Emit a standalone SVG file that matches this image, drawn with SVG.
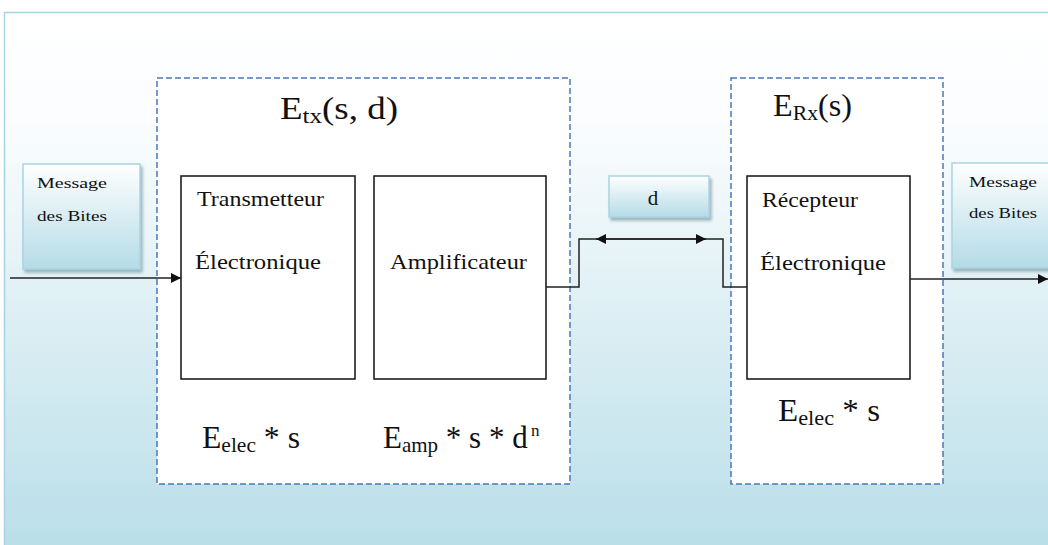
<svg xmlns="http://www.w3.org/2000/svg" width="1048" height="545" viewBox="0 0 1048 545">
  <defs>
    <linearGradient id="bg" x1="0" y1="0" x2="0" y2="1">
      <stop offset="0" stop-color="#ffffff"/>
      <stop offset="0.2" stop-color="#fbfdfe"/>
      <stop offset="1" stop-color="#b9dee8"/>
    </linearGradient>
    <linearGradient id="tag" x1="0" y1="0" x2="0" y2="1">
      <stop offset="0" stop-color="#ffffff"/>
      <stop offset="1" stop-color="#b4dbe6"/>
    </linearGradient>
    <filter id="shadow" x="-10%" y="-10%" width="130%" height="130%">
      <feDropShadow dx="2" dy="3" stdDeviation="1.5" flood-color="#6b8a94" flood-opacity="0.6"/>
    </filter>
    <marker id="arrow" viewBox="0 0 10 10" refX="10" refY="5" markerWidth="11" markerHeight="10" markerUnits="userSpaceOnUse" orient="auto-start-reverse">
      <path d="M0,0 L10,5 L0,10 Z" fill="#111"/>
    </marker>
  </defs>
  <style>
    .frame { fill: #ffffff; stroke: #4a78b8; stroke-width: 1.5; stroke-dasharray: 6 3; }
    .block { fill: #ffffff; stroke: #111; stroke-width: 1.5; }
    .tagbox { fill: url(#tag); stroke: #a9d5e2; stroke-width: 1.5; filter: url(#shadow); }
    .wire { fill: none; stroke: #222; stroke-width: 1.5; }
    text { font-family: "Liberation Serif", "Times New Roman", serif; fill: #111; }
    .lbl { font-size: 21px; }
    .small { font-size: 15px; }
    .eq { font-size: 31px; }
    .sub { font-size: 21px; }
    .sup { font-size: 17px; }
  </style>

  <!-- background panel -->
  <rect x="4.5" y="12.5" width="1050" height="540" fill="url(#bg)" stroke="#a6d4e0" stroke-width="1.5"/>

  <!-- transmitter frame -->
  <g id="tx-frame">
    <rect class="frame" x="157" y="78" width="413" height="406"/>
    <text class="eq" x="280" y="119" textLength="118" lengthAdjust="spacingAndGlyphs">E<tspan class="sub" dy="4">tx</tspan><tspan dy="-4">(s, d)</tspan></text>
  </g>

  <!-- receiver frame -->
  <g id="rx-frame">
    <rect class="frame" x="731" y="78" width="212" height="406"/>
    <text class="eq" x="773" y="116" textLength="79" lengthAdjust="spacingAndGlyphs">E<tspan class="sub" dy="4">Rx</tspan><tspan dy="-4">(s)</tspan></text>
  </g>

  <!-- input message -->
  <g id="msg-in">
    <rect class="tagbox" x="23" y="164" width="117" height="105"/>
    <text class="small" x="37" y="188" textLength="70" lengthAdjust="spacingAndGlyphs">Message</text>
    <text class="small" x="37" y="221" textLength="70" lengthAdjust="spacingAndGlyphs">des Bites</text>
  </g>

  <!-- output message -->
  <g id="msg-out">
    <rect class="tagbox" x="952" y="163" width="110" height="105"/>
    <text class="small" x="969" y="187" textLength="68" lengthAdjust="spacingAndGlyphs">Message</text>
    <text class="small" x="969" y="218" textLength="68" lengthAdjust="spacingAndGlyphs">des Bites</text>
  </g>

  <!-- transmitter electronics -->
  <g id="tx-elec">
    <rect class="block" x="181" y="176" width="174" height="203"/>
    <text class="lbl" x="197" y="206" textLength="127" lengthAdjust="spacingAndGlyphs">Transmetteur</text>
    <text class="lbl" x="195" y="269" textLength="126" lengthAdjust="spacingAndGlyphs">Électronique</text>
    <text class="eq" x="202" y="448" textLength="98" lengthAdjust="spacingAndGlyphs">E<tspan class="sub" dy="4">elec</tspan><tspan dy="-4"> * s</tspan></text>
  </g>

  <!-- amplifier -->
  <g id="amp">
    <rect class="block" x="374" y="176" width="172" height="203"/>
    <text class="lbl" x="390" y="269" textLength="137" lengthAdjust="spacingAndGlyphs">Amplificateur</text>
    <text class="eq" x="383" y="448">E<tspan class="sub" dy="4">amp</tspan><tspan dy="-4"> * s * d</tspan></text>
    <text class="sup" x="531" y="436">n</text>
  </g>

  <!-- distance tag -->
  <g id="dist">
    <rect class="tagbox" x="609" y="176" width="100" height="41"/>
    <text class="lbl" x="653" y="205" text-anchor="middle">d</text>
  </g>

  <!-- receiver electronics -->
  <g id="rx-elec">
    <rect class="block" x="747" y="176" width="163" height="203"/>
    <text class="lbl" x="762" y="207" textLength="96" lengthAdjust="spacingAndGlyphs">Récepteur</text>
    <text class="lbl" x="760" y="270" textLength="126" lengthAdjust="spacingAndGlyphs">Électronique</text>
    <text class="eq" x="778" y="421" textLength="102" lengthAdjust="spacingAndGlyphs">E<tspan class="sub" dy="4">elec</tspan><tspan dy="-4"> * s</tspan></text>
  </g>

  <!-- connectors -->
  <g id="connectors">
    <line class="wire" x1="10" y1="278" x2="181" y2="278" marker-end="url(#arrow)"/>
    <polyline class="wire" points="546,287 579,287 579,239 723,239 723,287 747,287"/>
    <line class="wire" x1="596" y1="239" x2="706" y2="239" marker-start="url(#arrow)" marker-end="url(#arrow)"/>
    <line class="wire" x1="910" y1="279" x2="1048" y2="279" stroke="#444" marker-end="url(#arrow)"/>
  </g>
</svg>
